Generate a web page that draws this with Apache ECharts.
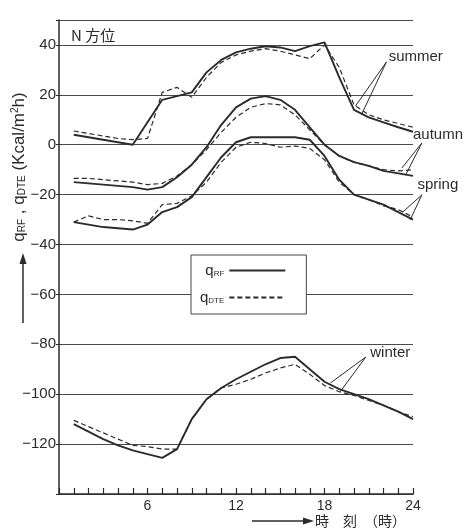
<!DOCTYPE html>
<html>
<head>
<meta charset="utf-8">
<script src="https://cdn.jsdelivr.net/npm/echarts@6/dist/echarts.min.js"></script>
<style>
  html, body { margin: 0; padding: 0; background: #fff; }
  #chart { width: 467px; height: 532px; }
</style>
</head>
<body>
<div id="chart"></div>
<script>
// 時刻 (時)
const hours = [1, 2, 3, 4, 5, 6, 7, 8, 9, 10, 11, 12, 13, 14, 15, 16, 17, 18, 19, 20, 21, 22, 23, 24];
const xTickLabels = [6, 12, 18, 24];

// q_RF (solid) / q_DTE (dashed), Kcal/m2h
const summerRF  = [4, 3, 2, 1, 0, 9, 18, 19.5, 21, 29, 34, 37, 38.5, 39.5, 39, 37.5, 39.5, 41, 27, 14, 11, 9, 7, 5.2];
const summerDTE = [5.5, 4.5, 3.5, 2.5, 2, 2.5, 21, 23, 19, 27, 33, 36, 37.5, 38.5, 37.5, 36, 34.5, 40, 31, 16, 12, 10, 8.5, 7];
const autumnRF  = [-15, -15.5, -16, -16.5, -17, -18, -17, -13, -8, -1, 8, 15, 18.5, 19.5, 18, 14, 7, 0, -4.5, -7, -8.5, -10.5, -11.5, -12.5];
const autumnDTE = [-13.5, -13.5, -14, -14.5, -15, -16, -15.5, -12.5, -8, -2, 5, 11, 15, 16.5, 16, 12, 6, 0, -4.5, -7, -8.5, -10, -10.5, -10];
const springRF  = [-31, -32, -33, -33.5, -34, -32, -27, -25, -21, -13, -5, 1, 3, 3, 3, 3, 2, -4.5, -14, -20, -22, -24, -27, -30];
const springDTE = [-31, -28.5, -30, -30, -30.5, -31.5, -24, -23.5, -20.5, -15, -7, -1, 1, 0.5, -1, -0.5, -1.5, -6, -15, -20, -22, -24.5, -26, -29];
const winterRF  = [-112, -115, -118, -120.5, -122.5, -124, -125.5, -122, -110, -102, -97.5, -94, -91, -88, -85.5, -85, -90, -95, -98, -100, -102, -104.5, -107, -110];
const winterDTE = [-110.5, -113, -115.5, -118, -120.5, -121, -122, -122, -110, -102, -97.5, -96, -94, -91.5, -89.5, -88, -92, -96.5, -99, -100.5, -102.5, -104.5, -107, -109];

// 季節ラベルと引出し線 (データ座標)
const seasonNotes = [
  { text: 'summer', at: [22.35, 35.2], from: [22.2, 33.2], to: [[20.1, 15.5], [20.5, 12]] },
  { text: 'autumn', at: [24.0, 3.9],   from: [24.6, 0.7],  to: [[23.25, -9.3], [23.5, -12.1]] },
  { text: 'spring', at: [24.3, -16.1], from: [24.6, -20.1], to: [[23.3, -27], [23.8, -30.2]] },
  { text: 'winter', at: [21.1, -83.5], from: [20.8, -85.1], to: [[18.4, -95.5], [19.05, -99.1]] }
];

const ink = '#2b2b2b';
const latin = "'Liberation Sans', Arial, sans-serif";
const narrow = "'Liberation Sans Narrow', 'Liberation Sans', Arial, sans-serif";
const cjk = "'Noto Sans CJK JP', sans-serif";

function pairs(arr) {
  return hours.map((h, i) => [h, arr[i]]);
}

function makeSeries(name, arr, dashed) {
  return {
    name: name,
    type: 'line',
    data: pairs(arr),
    symbol: 'none',
    lineStyle: {
      color: ink,
      width: dashed ? 1.2 : 1.9,
      type: dashed ? [5, 3] : 'solid'
    },
    itemStyle: { color: ink }
  };
}

let myChart = echarts.init(document.getElementById('chart'));

myChart.setOption({
  animation: false,
  backgroundColor: '#fff',
  title: {
    text: 'N 方位',
    left: 66,
    top: 23,
    textStyle: { fontFamily: cjk, fontSize: 15, fontWeight: 'normal', color: ink }
  },
  grid: { left: 59, right: 54, top: 20, bottom: 38 },
  legend: {
    data: ['qRF', 'qDTE'],
    orient: 'vertical',
    left: 191,
    top: 255,
    align: 'right',
    itemWidth: 56,
    itemHeight: 12,
    itemGap: 12,
    padding: [8, 20, 9, 9],
    backgroundColor: '#fff',
    borderColor: '#444',
    borderWidth: 1,
    borderRadius: 0,
    itemStyle: { opacity: 0 },
    formatter: function (name) {
      return name === 'qRF' ? '{q|q}{s|RF}' : '{q|q}{s|DTE}';
    },
    textStyle: {
      color: ink,
      fontFamily: latin,
      rich: {
        q: { fontSize: 15, fontFamily: latin, color: ink },
        s: { fontSize: 8, fontFamily: latin, color: ink, verticalAlign: 'bottom', padding: [6, 0, 0, 0] }
      }
    }
  },
  xAxis: {
    type: 'value',
    min: 0,
    max: 24,
    interval: 1,
    axisLine: { onZero: false, lineStyle: { color: ink, width: 1.5 } },
    axisTick: { inside: true, length: 6, lineStyle: { color: ink, width: 1.2 } },
    splitLine: { show: false },
    axisLabel: {
      margin: 5,
      fontSize: 14,
      fontFamily: latin,
      color: ink,
      formatter: function (v) {
        return xTickLabels.indexOf(v) >= 0 ? String(v) : '';
      }
    }
  },
  yAxis: {
    type: 'value',
    min: -140,
    max: 50,
    interval: 20,
    axisLine: { show: true, lineStyle: { color: ink, width: 1.5 } },
    axisTick: { show: true, length: 3, lineStyle: { color: ink } },
    splitLine: { show: true, lineStyle: { color: '#4a4a4a', width: 1.2 } },
    axisLabel: {
      margin: 3,
      fontSize: 15,
      fontFamily: narrow,
      color: ink,
      formatter: function (v) {
        if (v === -140 || v === 50) return '';
        return String(v).replace('-', '−');
      }
    }
  },
  series: [
    makeSeries('qRF', summerRF, false),
    makeSeries('qDTE', summerDTE, true),
    makeSeries('qRF', autumnRF, false),
    makeSeries('qDTE', autumnDTE, true),
    makeSeries('qRF', springRF, false),
    makeSeries('qDTE', springDTE, true),
    makeSeries('qRF', winterRF, false),
    makeSeries('qDTE', winterDTE, true)
  ]
});

// 注記 (季節名, 軸名)
function px(p) {
  return myChart.convertToPixel({ gridIndex: 0 }, p);
}

let graphics = [];
seasonNotes.forEach(function (n) {
  let a = px(n.at);
  let f = px(n.from);
  graphics.push({
    type: 'text',
    x: a[0],
    y: a[1],
    style: { text: n.text, fontSize: 15, fontFamily: latin, fill: ink, verticalAlign: 'middle', align: 'left' }
  });
  n.to.forEach(function (t) {
    let p = px(t);
    graphics.push({
      type: 'line',
      shape: { x1: f[0], y1: f[1], x2: p[0], y2: p[1] },
      style: { stroke: ink, lineWidth: 1 }
    });
  });
});

// y軸名
graphics.push({
  type: 'text',
  x: 19,
  y: 167,
  rotation: Math.PI / 2,
  style: {
    text: '{q|q}{s|RF}{q| , q}{s|DTE}{q| (Kcal/m}{u|2}{q|h)}',
    align: 'center',
    verticalAlign: 'middle',
    fill: ink,
    rich: {
      q: { fontSize: 17, fontFamily: narrow, fill: ink },
      s: { fontSize: 10, fontFamily: narrow, fill: ink, verticalAlign: 'bottom', padding: [6, 0, 0, 0] },
      u: { fontSize: 10, fontFamily: narrow, fill: ink, verticalAlign: 'top' }
    }
  }
});
graphics.push({
  type: 'line',
  shape: { x1: 23, y1: 323, x2: 23, y2: 262 },
  style: { stroke: ink, lineWidth: 1.5 }
});
graphics.push({
  type: 'polygon',
  shape: { points: [[23, 253], [19.5, 264], [26.5, 264]] },
  style: { fill: ink }
});

// x軸名
graphics.push({
  type: 'line',
  shape: { x1: 252, y1: 521, x2: 304, y2: 521 },
  style: { stroke: ink, lineWidth: 1.5 }
});
graphics.push({
  type: 'polygon',
  shape: { points: [[314, 521], [303, 517.5], [303, 524.5]] },
  style: { fill: ink }
});
graphics.push({
  type: 'text',
  x: 315,
  y: 521,
  style: { text: '時　刻　（時）', fontSize: 14, fontFamily: cjk, fill: ink, verticalAlign: 'middle', align: 'left' }
});

myChart.setOption({ graphic: graphics });

window.addEventListener('resize', () => {
  myChart.resize();
});
</script>
</body>
</html>
